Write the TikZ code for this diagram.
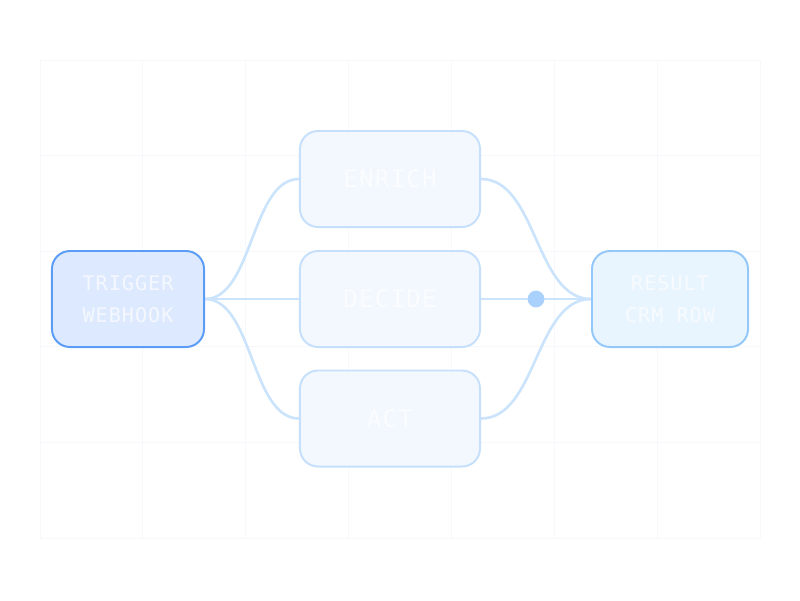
\documentclass[tikz,border=0pt]{standalone}
\usepackage{fontspec}
\usepackage{tikz}
\usetikzlibrary{backgrounds}
\newfontfamily\lblfont[LetterSpace=5]{DejaVu Sans Mono}
\definecolor{gridc}{HTML}{F6F8FB}
\definecolor{trigfill}{HTML}{DBE8FE}
\definecolor{trigline}{HTML}{5B9CF6}
\definecolor{midfill}{HTML}{F1F7FE}
\definecolor{midline}{HTML}{C6E0FB}
\definecolor{resfill}{HTML}{E6F3FE}
\definecolor{resline}{HTML}{93C8F8}
\definecolor{wirec}{HTML}{CCE4FB}
\definecolor{dotc}{HTML}{A9D1FB}

\begin{document}
\begin{tikzpicture}[x=0.025cm,y=-0.025cm,
    box/.style={draw,rounded corners=0.45cm,line width=1.4pt,minimum height=2.4cm,
      text=white,text opacity=.7,align=center},
    sidebox/.style={box,minimum width=3.8cm,font=\lblfont\fontsize{14.3}{22.7}\selectfont},
    midbox/.style={box,minimum width=4.5cm,draw=midline,fill=midfill,fill opacity=.92,
      font=\lblfont\fontsize{17.2}{20}\selectfont},
    wire/.style={draw=wirec,line width=1.9pt},
    junction/.style={circle,fill=dotc,inner sep=0pt,minimum size=0.42cm}]
      \useasboundingbox(0,0)rectangle(800,600);
      % grid
      \begin{pgfonlayer}{background}
      \foreach \i in {0,...,7}\draw[gridc,line width=.7pt](40+\i*102.857,60)--(40+\i*102.857,538);
      \foreach \j in {0,...,5}\draw[gridc,line width=.7pt](40,60+\j*95.6)--(760,60+\j*95.6);
      \end{pgfonlayer}
      % boxes
      \node[sidebox,draw=trigline,fill=trigfill,fill opacity=.95](trig)at(128,299){TRIGGER\\WEBHOOK};
      \node[midbox](enr)at(390,179){ENRICH};
      \node[midbox](dec)at(390,299){DECIDE};
      \node[midbox](act)at(390,418.5){ACT};
      \node[sidebox,draw=resline,fill=resfill,fill opacity=.92,minimum width=3.9cm](res)at(670,299){RESULT\\CRM ROW};
      % wires
      \begin{pgfonlayer}{background}
      \draw[wire](trig.east)..controls+(48,0)and+(-48,0)..(enr.west);
      \draw[wire](trig.east)--(dec.west);
      \draw[wire](trig.east)..controls+(48,0)and+(-48,0)..(act.west);
      \draw[wire](enr.east)..controls+(56,0)and+(-56,0)..(res.west);
      \draw[wire](dec.east)--(res.west);
      \draw[wire](act.east)..controls+(56,0)and+(-56,0)..(res.west);
      \end{pgfonlayer}
      \path(dec.east)--node[junction](dot){}(res.west);
    \end{tikzpicture}
\end{document}
